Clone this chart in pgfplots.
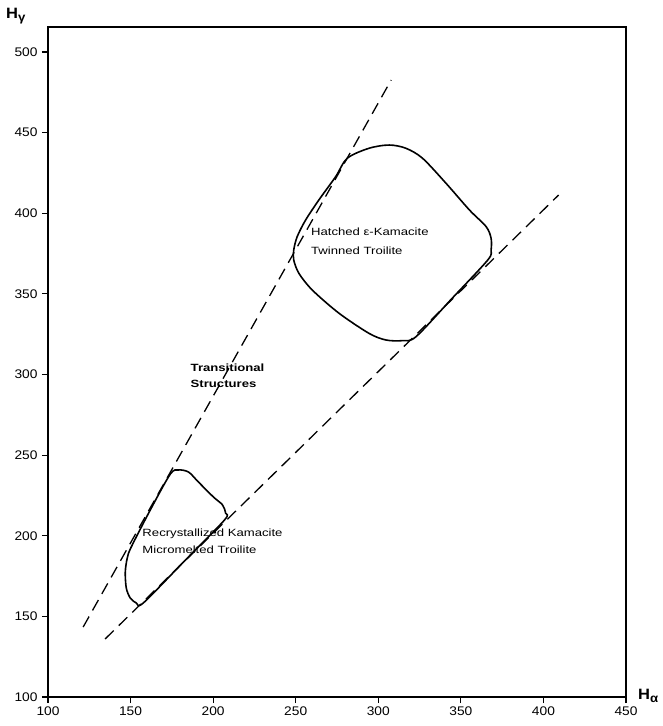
\documentclass[border=0pt]{standalone}
\usepackage{fontspec}
\setmainfont{Liberation Sans}[FakeStretch=1.25]
\newfontfamily\tickfont{Liberation Sans}[FakeStretch=1.1]
\usepackage{pgfplots}
\pgfplotsset{compat=1.18}
\begin{document}
\begin{tikzpicture}
\begin{axis}[
 name=ax,
 scale only axis, width=578pt, height=670pt,
 xmin=100, xmax=450, ymin=100, ymax=515.5,
 xtick={100,150,...,450}, ytick={100,150,...,500},
 tick align=outside, tick pos=left,
 major tick length=6pt,
 axis line style={line width=1.4pt},
 every tick/.style={line width=1.2pt, black},
 ticklabel style={font=\tickfont\fontsize{12.5}{14}\selectfont},
 yticklabel style={xshift=-1pt},
 /pgf/number format/assume math mode=true,
 /pgf/number format/1000 sep={},
 clip=false,
]
% dashed boundary lines
\addplot[black, line width=1.3pt, dash pattern=on 12pt off 7pt] coordinates {(121.3,143.4) (307.8,482.6)};
\addplot[black, line width=1.3pt, dash pattern=on 12pt off 7pt] coordinates {(134.6,136.0) (409.2,411.3)};
% upper region
\addplot[black, line width=1.6pt, smooth cycle, tension=0.5] coordinates {
 (281.2,434.1) (294.4,440.3) (306.6,442.3) (316.7,440.3) (326.8,434.1)
 (341.0,418.6) (355.2,402.0) (365.3,391.7) (368.3,384.5) (368.3,377.2)
 (366.3,371.0) (344.5,347.0) (322.8,323.4) (314.6,321.0) (304.6,321.4)
 (294.4,325.5) (276.2,338.0) (260.0,352.4) (251.9,362.8) (248.8,371.0)
 (248.8,377.2) (250.9,385.5) (256.0,395.8) (264.0,408.2) (274.2,422.7)};
% lower region
\addplot[black, line width=1.6pt, smooth cycle, tension=0.5] coordinates {
 (174.1,238.3) (179.0,240.8) (185.1,239.5) (191.1,233.3) (200.2,224.0)
 (205.7,219.1) (207.5,214.1) (206.9,209.8) (182.3,184.0) (157.7,158.3)
 (153.5,158.3) (149.8,161.4) (147.4,167.6) (146.8,177.5) (148.0,186.2)
 (150.4,193.0) (162.2,216.5)};
% annotations
\node[anchor=west, align=left, font=\fontsize{10.5}{19}\selectfont, inner sep=0pt] at (axis cs:259.2,382.5) {Hatched ε-Kamacite\\Twinned Troilite};
\node[anchor=west, align=left, font=\fontsize{10.5}{16}\selectfont\bfseries, inner sep=0pt] at (axis cs:186.3,299.1) {Transitional\\Structures};
\node[anchor=west, align=left, font=\fontsize{10.5}{17}\selectfont, inner sep=0pt] at (axis cs:157.1,196.4) {Recrystallized Kamacite\\Micromelted Troilite};
\node[anchor=west, inner sep=0pt, font=\tickfont\fontsize{15}{16}\selectfont\bfseries] at (axis cs:74.5,522.3) {H\raisebox{-0.4ex}{\fontsize{12}{12}\selectfont γ}};
\node[anchor=west, inner sep=0pt, font=\tickfont\fontsize{15}{16}\selectfont\bfseries] at (axis cs:457.2,100.6) {H\raisebox{-0.4ex}{\fontsize{12}{12}\selectfont α}};
\end{axis}
\pgfresetboundingbox
\path[use as bounding box] ([shift={(-48pt,-29pt)}]ax.south west) rectangle ([shift={(36pt,27pt)}]ax.north east);
\end{tikzpicture}
\end{document}
